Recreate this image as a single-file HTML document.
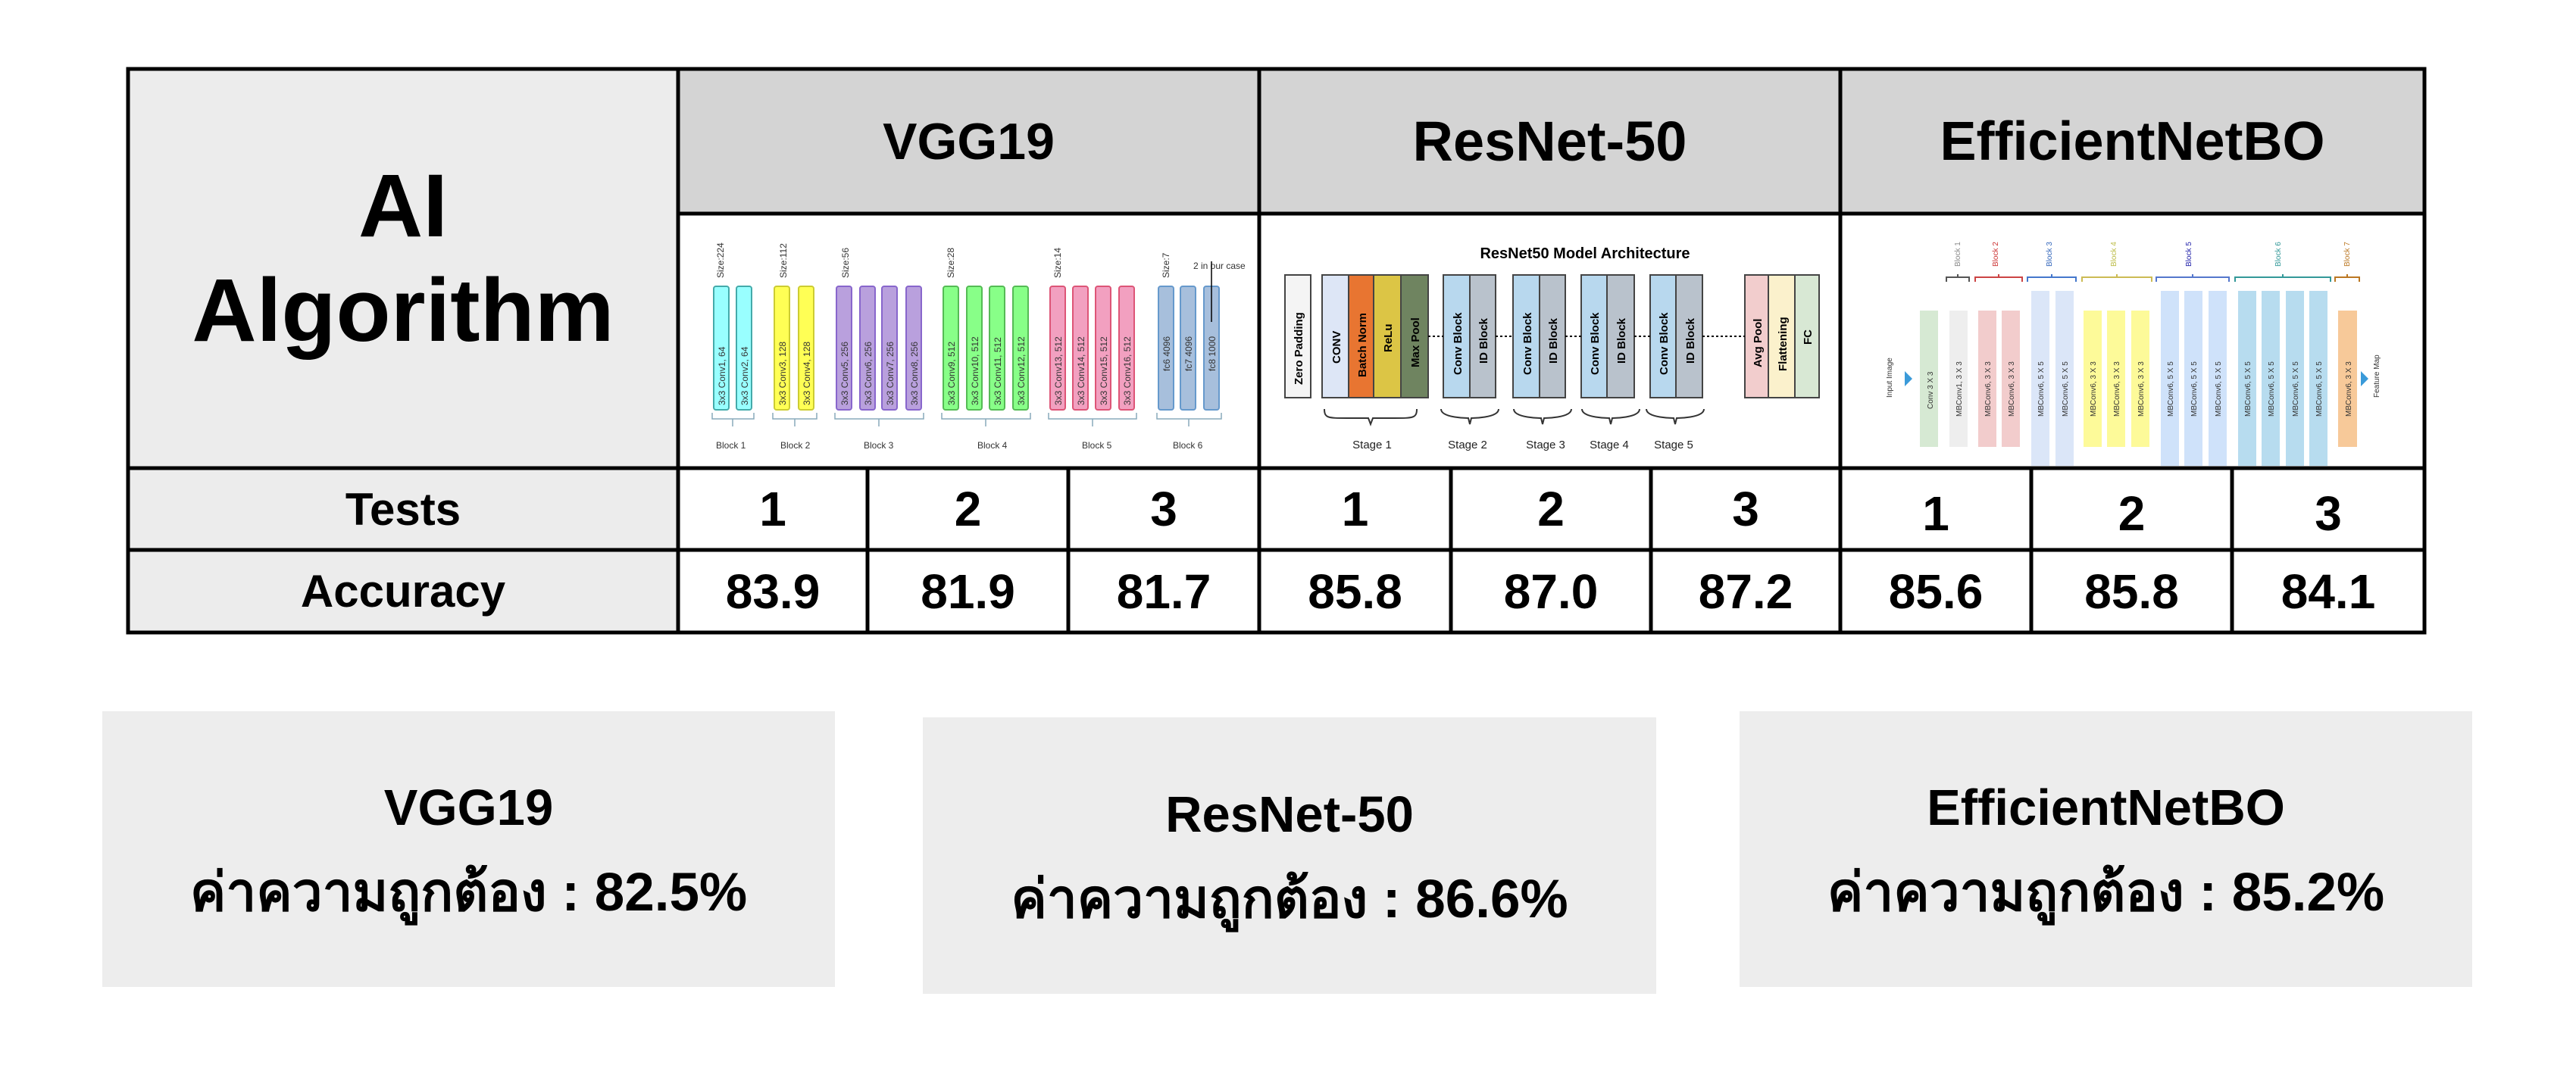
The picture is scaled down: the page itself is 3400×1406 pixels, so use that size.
<!DOCTYPE html>
<html><head><meta charset="utf-8"><style>
body{margin:0;width:3400px;height:1406px;background:#fff;position:relative;overflow:hidden;font-family:"Liberation Sans","DejaVu Sans",sans-serif;font-weight:bold;color:#000}
.a{position:absolute;box-sizing:border-box;display:flex;align-items:center;justify-content:center;text-align:center}
.box{background:#ededed;flex-direction:column}
.t{font-size:64px}
</style></head><body>
<div class="a" style="left:169px;top:76px;width:726px;height:529px;background:transparent;flex-direction:column;font-size:118px;line-height:138px;z-index:2">AI<br>Algorithm</div>
<div class="a" style="left:169px;top:91px;width:726px;height:527px;background:#ececec"></div>
<div class="a" style="left:169px;top:618px;width:726px;height:108px;background:#ececec;font-size:60px">Tests</div>
<div class="a" style="left:169px;top:726px;width:726px;height:109px;background:#ececec;font-size:60px">Accuracy</div>
<div class="a" style="left:895px;top:91px;width:767px;height:191px;background:#d4d4d4;font-size:68px">VGG19</div>
<div class="a" style="left:1662px;top:91px;width:767px;height:191px;background:#d4d4d4;font-size:74px">ResNet-50</div>
<div class="a" style="left:2429px;top:91px;width:771px;height:191px;background:#d4d4d4;font-size:72px">EfficientNetBO</div>

<div class="a t" style="left:895px;top:618px;width:250px;height:108px">1</div>
<div class="a t" style="left:1145px;top:618px;width:265px;height:108px">2</div>
<div class="a t" style="left:1410px;top:618px;width:252px;height:108px">3</div>
<div class="a t" style="left:1662px;top:618px;width:253px;height:108px">1</div>
<div class="a t" style="left:1915px;top:618px;width:264px;height:108px">2</div>
<div class="a t" style="left:2179px;top:618px;width:250px;height:108px">3</div>
<div class="a t" style="left:2429px;top:624px;width:252px;height:108px">1</div>
<div class="a t" style="left:2681px;top:624px;width:265px;height:108px">2</div>
<div class="a t" style="left:2946px;top:624px;width:254px;height:108px">3</div>

<div class="a t" style="left:895px;top:726px;width:250px;height:109px">83.9</div>
<div class="a t" style="left:1145px;top:726px;width:265px;height:109px">81.9</div>
<div class="a t" style="left:1410px;top:726px;width:252px;height:109px">81.7</div>
<div class="a t" style="left:1662px;top:726px;width:253px;height:109px">85.8</div>
<div class="a t" style="left:1915px;top:726px;width:264px;height:109px">87.0</div>
<div class="a t" style="left:2179px;top:726px;width:250px;height:109px">87.2</div>
<div class="a t" style="left:2429px;top:726px;width:252px;height:109px">85.6</div>
<div class="a t" style="left:2681px;top:726px;width:265px;height:109px">85.8</div>
<div class="a t" style="left:2946px;top:726px;width:254px;height:109px">84.1</div>

<svg style="position:absolute;left:0;top:0" width="3400" height="1406" font-family="Liberation Sans, sans-serif">
<g stroke="#000" stroke-width="5" fill="none">
<rect x="169" y="91" width="3031" height="744"/>
<line x1="895" y1="91" x2="895" y2="835"/><line x1="1662" y1="91" x2="1662" y2="835"/><line x1="2429" y1="91" x2="2429" y2="835"/>
<line x1="895" y1="282" x2="3200" y2="282"/>
<line x1="169" y1="618" x2="3200" y2="618"/><line x1="169" y1="726" x2="3200" y2="726"/>
<line x1="1145" y1="618" x2="1145" y2="835"/><line x1="1410" y1="618" x2="1410" y2="835"/>
<line x1="1915" y1="618" x2="1915" y2="835"/><line x1="2179" y1="618" x2="2179" y2="835"/>
<line x1="2681" y1="618" x2="2681" y2="835"/><line x1="2946" y1="618" x2="2946" y2="835"/>
</g>
<g stroke-width="2">
<g fill="#9ff" stroke="#4aa"><rect x="942" y="378" width="20" height="163" rx="3"/><rect x="972" y="378" width="20" height="163" rx="3"/></g>
<g fill="#ff5" stroke="#cc3"><rect x="1022" y="378" width="20" height="163" rx="3"/><rect x="1054" y="378" width="20" height="163" rx="3"/></g>
<g fill="#b9a0dd" stroke="#86c"><rect x="1104" y="378" width="20" height="163" rx="3"/><rect x="1135" y="378" width="20" height="163" rx="3"/><rect x="1164" y="378" width="20" height="163" rx="3"/><rect x="1196" y="378" width="20" height="163" rx="3"/></g>
<g fill="#8f8" stroke="#5b5"><rect x="1245" y="378" width="20" height="163" rx="3"/><rect x="1276" y="378" width="20" height="163" rx="3"/><rect x="1306" y="378" width="20" height="163" rx="3"/><rect x="1337" y="378" width="20" height="163" rx="3"/></g>
<g fill="#f2a0c0" stroke="#d57"><rect x="1386" y="378" width="20" height="163" rx="3"/><rect x="1416" y="378" width="20" height="163" rx="3"/><rect x="1446" y="378" width="20" height="163" rx="3"/><rect x="1477" y="378" width="20" height="163" rx="3"/></g>
<g fill="#a7bfdc" stroke="#69c"><rect x="1529" y="378" width="20" height="163" rx="3"/><rect x="1558" y="378" width="20" height="163" rx="3"/><rect x="1589" y="378" width="20" height="163" rx="3"/></g>
</g>
<g font-size="12" fill="#333" font-weight="normal">
<text transform="translate(957,535) rotate(-90)">3x3 Conv1, 64</text><text transform="translate(987,535) rotate(-90)">3x3 Conv2, 64</text>
<text transform="translate(1037,535) rotate(-90)">3x3 Conv3, 128</text><text transform="translate(1069,535) rotate(-90)">3x3 Conv4, 128</text>
<text transform="translate(1119,535) rotate(-90)">3x3 Conv5, 256</text><text transform="translate(1150,535) rotate(-90)">3x3 Conv6, 256</text><text transform="translate(1179,535) rotate(-90)">3x3 Conv7, 256</text><text transform="translate(1211,535) rotate(-90)">3x3 Conv8, 256</text>
<text transform="translate(1260,535) rotate(-90)">3x3 Conv9, 512</text><text transform="translate(1291,535) rotate(-90)">3x3 Conv10, 512</text><text transform="translate(1321,535) rotate(-90)">3x3 Conv11, 512</text><text transform="translate(1352,535) rotate(-90)">3x3 Conv12, 512</text>
<text transform="translate(1401,535) rotate(-90)">3x3 Conv13, 512</text><text transform="translate(1431,535) rotate(-90)">3x3 Conv14, 512</text><text transform="translate(1461,535) rotate(-90)">3x3 Conv15, 512</text><text transform="translate(1492,535) rotate(-90)">3x3 Conv16, 512</text>
<text transform="translate(1544,490) rotate(-90)">fc6 4096</text><text transform="translate(1573,490) rotate(-90)">fc7 4096</text><text transform="translate(1604,490) rotate(-90)">fc8 1000</text>
<text transform="translate(955,367) rotate(-90)">Size:224</text><text transform="translate(1038,367) rotate(-90)">Size:112</text><text transform="translate(1120,367) rotate(-90)">Size:56</text><text transform="translate(1259,367) rotate(-90)">Size:28</text><text transform="translate(1400,367) rotate(-90)">Size:14</text><text transform="translate(1543,367) rotate(-90)">Size:7</text>
<text x="1575" y="355">2 in our case</text>
<text x="945" y="592">Block 1</text><text x="1030" y="592">Block 2</text><text x="1140" y="592">Block 3</text><text x="1290" y="592">Block 4</text><text x="1428" y="592">Block 5</text><text x="1548" y="592">Block 6</text>
</g>
<g stroke="#8ab" fill="none" stroke-width="1.5"><path d="M940 545v8h55v-8M967 553v10M1020 545v8h58v-8M1049 553v10M1102 545v8h117v-8M1160 553v10M1243 545v8h117v-8M1301 553v10M1384 545v8h116v-8M1442 553v10M1527 545v8h85v-8M1569 553v10"/>
<path d="M1599 425v-80" stroke="#000"/></g>
<text x="2092" y="341" font-size="20" text-anchor="middle">ResNet50 Model Architecture</text>
<g stroke="#444" stroke-width="2">
<rect x="1696" y="363" width="34" height="162" fill="#f4f4f4"/>
<rect x="1745" y="363" width="35" height="162" fill="#dde6f6"/><rect x="1780" y="363" width="33" height="162" fill="#e87531"/><rect x="1813" y="363" width="36" height="162" fill="#dcc545"/><rect x="1849" y="363" width="36" height="162" fill="#6f8460"/>
<g fill="#b8d8ee"><rect x="1905" y="363" width="35" height="162"/><rect x="1997" y="363" width="35" height="162"/><rect x="2087" y="363" width="34" height="162"/><rect x="2178" y="363" width="34" height="162"/></g>
<g fill="#b9c2cc"><rect x="1940" y="363" width="34" height="162"/><rect x="2032" y="363" width="34" height="162"/><rect x="2121" y="363" width="36" height="162"/><rect x="2212" y="363" width="35" height="162"/></g>
<rect x="2303" y="363" width="31" height="162" fill="#f2cdcd"/><rect x="2334" y="363" width="35" height="162" fill="#fbf1cc"/><rect x="2369" y="363" width="32" height="162" fill="#d8e8d4"/>
</g>
<path d="M1885 444h20M1974 444h23M2066 444h21M2157 444h21M2247 444h56" stroke="#000" stroke-width="2" stroke-dasharray="3,3"/>
<g font-size="15" fill="#000">
<text transform="translate(1719,508) rotate(-90)">Zero  Padding</text><text transform="translate(1769,480) rotate(-90)">CONV</text><text transform="translate(1803,498) rotate(-90)">Batch Norm</text><text transform="translate(1837,465) rotate(-90)">ReLu</text><text transform="translate(1873,485) rotate(-90)">Max Pool</text>
<text transform="translate(1929,495) rotate(-90)">Conv Block</text><text transform="translate(1963,480) rotate(-90)">ID Block</text><text transform="translate(2021,495) rotate(-90)">Conv Block</text><text transform="translate(2055,480) rotate(-90)">ID Block</text><text transform="translate(2110,495) rotate(-90)">Conv Block</text><text transform="translate(2145,480) rotate(-90)">ID Block</text><text transform="translate(2201,495) rotate(-90)">Conv Block</text><text transform="translate(2236,480) rotate(-90)">ID Block</text>
<text transform="translate(2325,485) rotate(-90)">Avg Pool</text><text transform="translate(2358,490) rotate(-90)">Flattening</text><text transform="translate(2391,455) rotate(-90)">FC</text>
</g>
<g font-size="15" fill="#222" text-anchor="middle" font-weight="normal"><text x="1811" y="592">Stage 1</text><text x="1937" y="592">Stage 2</text><text x="2040" y="592">Stage 3</text><text x="2124" y="592">Stage 4</text><text x="2209" y="592">Stage 5</text></g>
<path d="M1748 540c0 12 5 12 30 12h28l3 8 3-8h28c25 0 30 0 30-12M1902 540c0 12 36 12 36 12l2 8 2-8s36 0 36-12M1998 540c0 12 36 12 36 12l2 8 2-8s36 0 36-12M2088 540c0 12 36 12 36 12l2 8 2-8s36 0 36-12M2173 540c0 12 36 12 36 12l2 8 2-8s36 0 36-12" stroke="#333" fill="none" stroke-width="2"/>
<g>
<rect x="2534" y="410" width="24" height="180" fill="#d6e9d3"/><rect x="2573" y="410" width="24" height="180" fill="#eee"/>
<rect x="2611" y="410" width="24" height="180" fill="#f2cccc"/><rect x="2642" y="410" width="24" height="180" fill="#f2cccc"/>
<rect x="2681" y="384" width="24" height="231" fill="#dbe6f8"/><rect x="2713" y="384" width="24" height="231" fill="#dbe6f8"/>
<rect x="2750" y="410" width="24" height="180" fill="#fdfa99"/><rect x="2781" y="410" width="24" height="180" fill="#fdfa99"/><rect x="2813" y="410" width="24" height="180" fill="#fdfa99"/>
<rect x="2852" y="384" width="24" height="231" fill="#cfe2fa"/><rect x="2883" y="384" width="24" height="231" fill="#cfe2fa"/><rect x="2915" y="384" width="24" height="231" fill="#cfe2fa"/>
<rect x="2954" y="384" width="24" height="231" fill="#b7dcef"/><rect x="2985" y="384" width="24" height="231" fill="#b7dcef"/><rect x="3017" y="384" width="24" height="231" fill="#b7dcef"/><rect x="3048" y="384" width="24" height="231" fill="#b7dcef"/>
<rect x="3086" y="410" width="25" height="180" fill="#f7c999"/>
</g>
<g font-size="10" fill="#333" font-weight="normal">
<text transform="translate(2551,540) rotate(-90)">Conv 3 X 3</text><text transform="translate(2589,550) rotate(-90)">MBConv1, 3 X 3</text>
<text transform="translate(2627,550) rotate(-90)">MBConv6, 3 X 3</text><text transform="translate(2658,550) rotate(-90)">MBConv6, 3 X 3</text>
<text transform="translate(2697,550) rotate(-90)">MBConv6, 5 X 5</text><text transform="translate(2729,550) rotate(-90)">MBConv6, 5 X 5</text>
<text transform="translate(2766,550) rotate(-90)">MBConv6, 3 X 3</text><text transform="translate(2797,550) rotate(-90)">MBConv6, 3 X 3</text><text transform="translate(2829,550) rotate(-90)">MBConv6, 3 X 3</text>
<text transform="translate(2868,550) rotate(-90)">MBConv6, 5 X 5</text><text transform="translate(2899,550) rotate(-90)">MBConv6, 5 X 5</text><text transform="translate(2931,550) rotate(-90)">MBConv6, 5 X 5</text>
<text transform="translate(2970,550) rotate(-90)">MBConv6, 5 X 5</text><text transform="translate(3001,550) rotate(-90)">MBConv6, 5 X 5</text><text transform="translate(3033,550) rotate(-90)">MBConv6, 5 X 5</text><text transform="translate(3064,550) rotate(-90)">MBConv6, 5 X 5</text>
<text transform="translate(3103,550) rotate(-90)">MBConv6, 3 X 3</text>
<text transform="translate(2497,525) rotate(-90)">Input Image</text><text transform="translate(3140,525) rotate(-90)">Feature Map</text>
<text transform="translate(2587,352) rotate(-90)" fill="#888">Block 1</text><text transform="translate(2637,352) rotate(-90)" fill="#c33">Block 2</text><text transform="translate(2708,352) rotate(-90)" fill="#36b">Block 3</text><text transform="translate(2793,352) rotate(-90)" fill="#bb4">Block 4</text><text transform="translate(2892,352) rotate(-90)" fill="#22a">Block 5</text><text transform="translate(3010,352) rotate(-90)" fill="#399">Block 6</text><text transform="translate(3101,352) rotate(-90)" fill="#b72">Block 7</text>
</g>
<g fill="none" stroke-width="2"><path d="M2569 372v-6h30v6M2584 366v-4" stroke="#555"/><path d="M2607 372v-6h62v6M2638 366v-4" stroke="#c44"/><path d="M2676 372v-6h64v6M2708 366v-4" stroke="#47c"/><path d="M2748 372v-6h92v6M2794 366v-4" stroke="#cb5"/><path d="M2846 372v-6h96v6M2894 366v-4" stroke="#57c"/><path d="M2950 372v-6h126v6M3013 366v-4" stroke="#399"/><path d="M3082 372v-6h32v6M3098 366v-4" stroke="#b72"/></g>
<path d="M2514 490l10 10-10 10zM3116 490l10 10-10 10z" fill="#3a9ad9"/>
</svg>

<div class="a box" style="left:135px;top:939px;width:967px;height:364px"><div style="font-size:67px;margin-bottom:16px;margin-top:20px">VGG19</div><div style="font-size:71px">ค่าความถูกต้อง : 82.5%</div></div>
<div class="a box" style="left:1218px;top:947px;width:968px;height:365px"><div style="font-size:67px;margin-bottom:16px;margin-top:20px">ResNet-50</div><div style="font-size:71px">ค่าความถูกต้อง : 86.6%</div></div>
<div class="a box" style="left:2296px;top:939px;width:967px;height:364px"><div style="font-size:67px;margin-bottom:16px;margin-top:20px">EfficientNetBO</div><div style="font-size:71px">ค่าความถูกต้อง : 85.2%</div></div>
</body></html>
